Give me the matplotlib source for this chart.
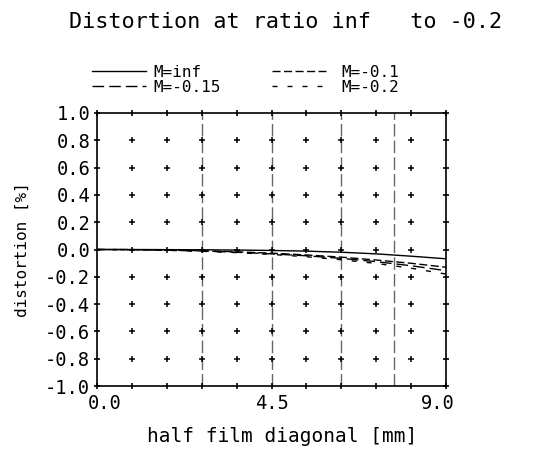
import numpy as np
import matplotlib
matplotlib.use("Agg")
import matplotlib.pyplot as plt
import matplotlib.transforms as mtransforms

plt.rcParams['font.family'] = ['DejaVu Sans Mono']
plt.rcParams['axes.unicode_minus'] = False

# ---- data ----
title = "Distortion at ratio inf   to -0.2"
x_label = "half film diagonal [mm]"
y_label = "distortion [%]"
h = [0.0, 0.9, 1.8, 2.7, 3.6, 4.5, 5.4, 6.3, 7.2, 8.1, 9.0]
d_inf = [0.0, 0.0, -0.001, -0.002, -0.004, -0.007, -0.012, -0.020, -0.032, -0.049, -0.068]
d_m010 = [0.0, -0.001, -0.004, -0.009, -0.017, -0.027, -0.040, -0.056, -0.077, -0.101, -0.130]
d_m015 = [0.0, -0.001, -0.005, -0.011, -0.020, -0.032, -0.046, -0.065, -0.089, -0.119, -0.155]
d_m020 = [0.0, -0.002, -0.006, -0.013, -0.023, -0.036, -0.053, -0.075, -0.102, -0.137, -0.180]
labels = ["M=inf", "M=-0.1", "M=-0.15", "M=-0.2"]
field_lines = [2.7, 4.5, 6.3, 7.65]
x_major = [0.0, 4.5, 9.0]
x_major_labels = ["0.0", "4.5", "9.0"]
x_minor = [0.9, 1.8, 2.7, 3.6, 5.4, 6.3, 7.2, 8.1]
y_ticks = [-1.0, -0.8, -0.6, -0.4, -0.2, 0.0, 0.2, 0.4, 0.6, 0.8, 1.0]
y_tick_labels = ["-1.0", "-0.8", "-0.6", "-0.4", "-0.2", "0.0", "0.2", "0.4", "0.6", "0.8", "1.0"]

W, H = 546, 451
fig = plt.figure(figsize=(W / 100, H / 100), dpi=100)
ax = fig.add_axes([97 / W, 1 - 386 / H, (446 - 97) / W, (386 - 113) / H])

# interior "+" grid
gx = x_minor[:] + [4.5]
gy = y_ticks[1:-1]
GX, GY = np.meshgrid(gx, gy)
ax.plot(GX.ravel(), GY.ravel(), ls='none', marker='+', ms=5, mew=1.1, color='black', zorder=2)

# field dashed vertical lines
for fx in field_lines:
    ax.axvline(fx, color='#666666', lw=1.0, dashes=(9, 3), zorder=1)

l_inf, = ax.plot(h, d_inf, color='black', lw=1.0, label=labels[0], zorder=3)
l_010, = ax.plot(h, d_m010, color='black', lw=1.0, dashes=(5.8, 2.5), label=labels[1], zorder=3)
l_015, = ax.plot(h, d_m015, color='black', lw=1.0, dashes=(8.4, 3.6), label=labels[2], zorder=3)
l_020, = ax.plot(h, d_m020, color='black', lw=1.0, dashes=(3.6, 7.2), label=labels[3], zorder=3)

ax.set_xlim(0, 9)
ax.set_ylim(-1, 1)
ax.set_xticks(x_major)
ax.set_xticklabels(x_major_labels, fontsize=13.5)
ax.set_xticks(x_minor, minor=True)
ax.set_yticks(y_ticks)
ax.set_yticklabels(y_tick_labels, fontsize=13.5)
ax.tick_params(which='both', direction='inout', length=5, width=1.2,
               top=True, right=True, color='black')
ax.tick_params(axis='y', pad=2.5)
ax.tick_params(axis='x', pad=3.5)
for sp in ax.spines.values():
    sp.set_linewidth(1.2)
    sp.set_color('black')

# shift end x tick labels inward
tls = ax.get_xticklabels()
tls[0].set_transform(tls[0].get_transform() + mtransforms.ScaledTranslation(8 / 100, 0, fig.dpi_scale_trans))
tls[-1].set_transform(tls[-1].get_transform() + mtransforms.ScaledTranslation(-8.5 / 100, 0, fig.dpi_scale_trans))

ax.set_xlabel(x_label, fontsize=14, va='center')
ax.xaxis.set_label_coords((282 - 97) / 349, (386 - 436) / 273)
ax.set_ylabel(y_label, fontsize=11.5, va='center', ha='center')
ax.yaxis.set_label_coords((22 - 97) / 349, (386 - 250) / 273)

fig.text(286 / W, 1 - 22 / H, title, fontsize=15.7, ha='center', va='center')

leg_kw = dict(loc='upper left', frameon=False, fontsize=11.5, handlelength=3.4,
              labelspacing=0.0, borderpad=0, borderaxespad=0)
fig.legend(handles=[l_inf, l_015], labels=[labels[0], labels[2]],
           bbox_to_anchor=(92 / W, 1 - 65 / H), handletextpad=0.45, **leg_kw)
fig.legend(handles=[l_010, l_020], labels=[labels[1], labels[3]],
           bbox_to_anchor=(272 / W, 1 - 65 / H), handletextpad=0.95, **leg_kw)

fig.savefig("out.png", dpi=100)
